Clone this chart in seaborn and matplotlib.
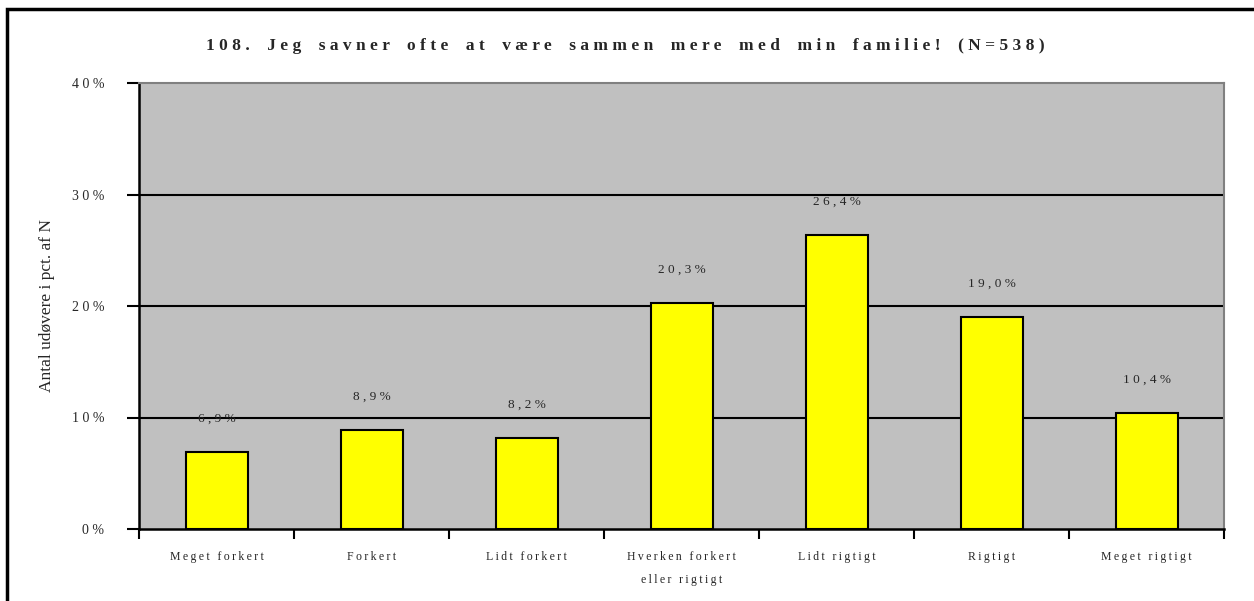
import matplotlib
matplotlib.use("Agg")
import matplotlib.pyplot as plt
import seaborn as sns
import pandas as pd
from matplotlib.patches import Rectangle
from matplotlib.ticker import FixedLocator

# data
categories = ["Meget forkert", "Forkert", "Lidt forkert", "Hverken forkert\neller rigtigt",
              "Lidt rigtigt", "Rigtigt", "Meget rigtigt"]
values = [6.9, 8.9, 8.2, 20.3, 26.4, 19.0, 10.4]
title = "108. Jeg savner ofte at være sammen mere med min familie! (N=538)"
ylabel = "Antal udøvere i pct. af N"
yticks = [0, 10, 20, 30, 40]

sns.set_style("white")
plt.rcParams['font.family'] = ['Liberation Serif', 'DejaVu Serif']

THIN = "\u2009"


def spread(s, gap=THIN):
    # wide letter spacing like the original Excel chart
    lines = s.split("\n")
    return "\n".join(gap.join(list(line)) for line in lines)


df = pd.DataFrame({"cat": categories, "val": values})

fig = plt.figure(figsize=(12.54, 6.01), dpi=100)
ax = fig.add_axes([139 / 1254, (601 - 529) / 601, 1085 / 1254, 446 / 601])

sns.barplot(data=df, x="cat", y="val", ax=ax, color="#ffff00", width=0.4,
            edgecolor="black", linewidth=1.5, saturation=1, zorder=3)

ax.set_facecolor("#c0c0c0")
ax.set_ylim(0, 40)
ax.set_xlim(-0.5, len(categories) - 0.5)
ax.set_yticks(yticks)
ax.set_yticklabels([spread(f"{t}%", " ") for t in yticks], fontsize=10)
for t in yticks[1:-1]:
    ax.axhline(t, color="black", lw=1.5, zorder=1)

ax.set_xticks(range(len(categories)))
ax.set_xticklabels([spread(c) for c in categories], fontsize=8.5, linespacing=2.2,
                   va="top")
ax.xaxis.set_minor_locator(FixedLocator([i - 0.5 for i in range(len(categories) + 1)]))
ax.tick_params(axis="x", which="major", length=0, pad=16)
ax.tick_params(axis="x", which="minor", length=7, width=1.5, color="black", direction="out",
               bottom=True)
ax.tick_params(axis="y", length=9, width=1.5, color="black", direction="out", pad=16, left=True)

for side in ["left", "bottom"]:
    ax.spines[side].set_color("black")
    ax.spines[side].set_linewidth(1.8)
for side in ["top", "right"]:
    ax.spines[side].set_color("#808080")
    ax.spines[side].set_linewidth(1.5)

ax.set_xlabel("")
ax.set_ylabel(ylabel, fontsize=12.5, labelpad=12)

for i, v in enumerate(values):
    txt = spread(f"{v:.1f}".replace(".", ",") + "%", " ")
    ax.annotate(txt, (i, v), xytext=(0, 24), textcoords="offset points",
                ha="center", va="center", fontsize=9.5)

fig.text(625 / 1254, 1 - 46 / 601, spread(title, " ").replace("   ", "    "),
         ha="center", va="center", fontsize=12.5, fontweight="bold")

# outer frame (only top and left are visible in the original)
fig.patches.append(Rectangle((7 / 1254, -0.1), 1.2, 1 - 9 / 601 + 0.1,
                             transform=fig.transFigure, fill=False,
                             edgecolor="black", lw=2.5))

fig.savefig("out.png", dpi=100)
